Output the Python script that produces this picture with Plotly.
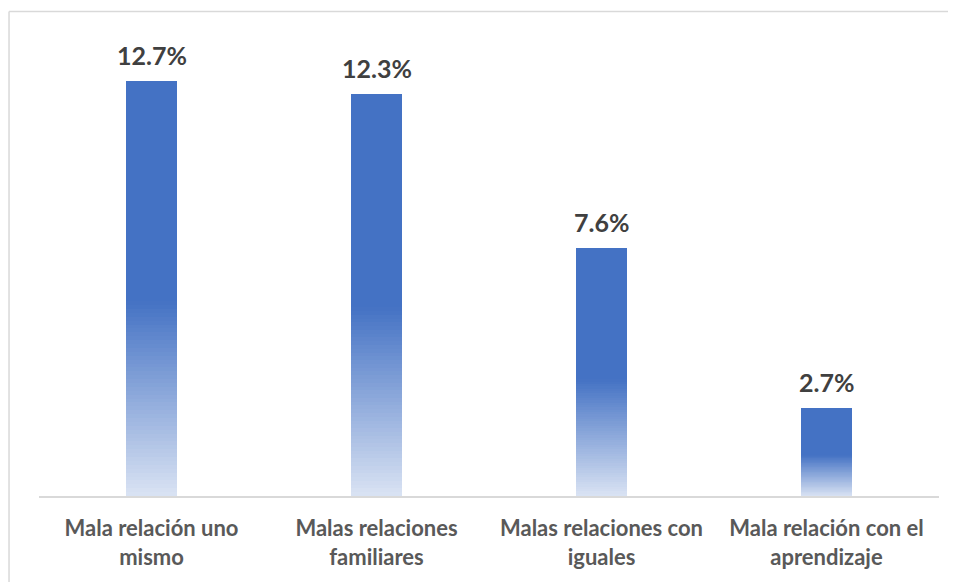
import plotly.graph_objects as go

categories = ["Mala relación uno<br>mismo", "Malas relaciones<br>familiares",
              "Malas relaciones con<br>iguales", "Mala relación con el<br>aprendizaje"]
values = [12.7, 12.3, 7.6, 2.7]
labels = ["12.7%", "12.3%", "7.6%", "2.7%"]

TOP = (0x44, 0x72, 0xC4)
BOTTOM = (0xDA, 0xE3, 0xF3)
GRAD_FRAC = 0.47   # bottom part of each bar that fades
N = 50

fig = go.Figure()

def rgb(t):
    c = [round(BOTTOM[i] + (TOP[i] - BOTTOM[i]) * t) for i in range(3)]
    return f"rgb({c[0]},{c[1]},{c[2]})"

# gradient slices (relative to each bar's own height)
for k in range(N):
    f0 = GRAD_FRAC * k / N
    f1 = GRAD_FRAC * (k + 1) / N
    t = (k + 0.5) / N
    fig.add_trace(go.Bar(
        x=categories,
        base=[v * f0 for v in values],
        y=[v * (f1 - f0) * 1.15 for v in values],
        marker=dict(color=rgb(t), line=dict(width=0)),
        width=0.227, hoverinfo="skip", showlegend=False,
    ))

# solid top part
fig.add_trace(go.Bar(
    x=categories,
    base=[v * GRAD_FRAC for v in values],
    y=[v * (1 - GRAD_FRAC) for v in values],
    marker=dict(color=rgb(1.0), line=dict(width=0)),
    width=0.227, hoverinfo="skip", showlegend=False,
))

for c, v, lab in zip(categories, values, labels):
    fig.add_annotation(x=c, y=v, text=f"<b>{lab}</b>", showarrow=False,
                       yanchor="bottom", yshift=9,
                       font=dict(family="Lato", size=25, color="#404040"))

# chart-area border (left and top edges visible in the frame)
fig.add_shape(type="line", xref="paper", yref="paper",
              x0=-0.0333, y0=-0.3, x1=-0.0333, y1=1.060,
              line=dict(color="#D9D9D9", width=1.5), layer="below")
fig.add_shape(type="line", xref="paper", yref="paper",
              x0=-0.0333, y0=1.060, x1=1.2, y1=1.060,
              line=dict(color="#D9D9D9", width=1.5), layer="below")

fig.update_layout(
    width=948, height=574,
    margin=dict(l=31, r=17, t=31, b=86),
    paper_bgcolor="white", plot_bgcolor="white",
    barmode="overlay", bargap=0,
    showlegend=False,
    xaxis=dict(showline=True, linecolor="#D9D9D9", linewidth=1.5,
               showgrid=False, ticks="", zeroline=False,
               tickfont=dict(family="Lato", size=22, color="#595959"),
               ticklabelstandoff=12),
    yaxis=dict(range=[0, 14], visible=False, showgrid=False, zeroline=False),
    font=dict(family="Lato"),
)
fig.update_xaxes(tickvals=categories,
                 ticktext=[f"<b>{c}</b>" for c in categories])

fig.write_html("out.html")
